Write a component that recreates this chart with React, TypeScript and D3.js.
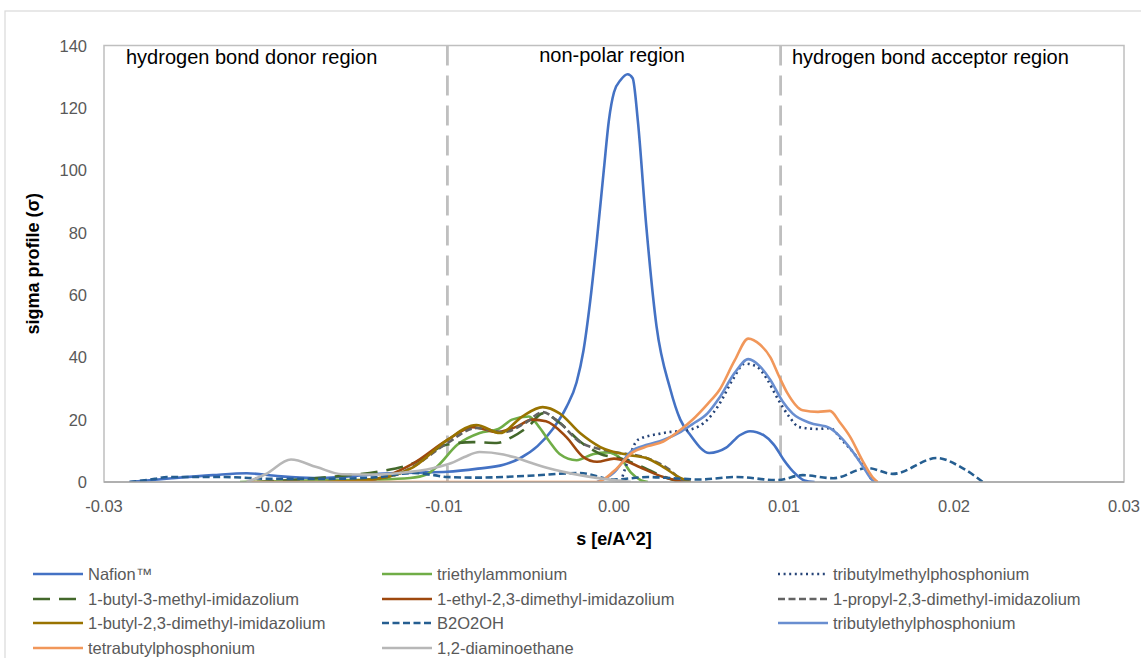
import React from 'react';
import * as d3 from 'd3';

const xTicks = [-0.03, -0.02, -0.01, 0, 0.01, 0.02, 0.03];
const xTickLabels = ['-0.03', '-0.02', '-0.01', '0.00', '0.01', '0.02', '0.03'];
const yTicks = [0, 20, 40, 60, 80, 100, 120, 140];
const regionBounds = [-0.0098, 0.0098];
const regionLabels = ['hydrogen bond donor region', 'non-polar region', 'hydrogen bond acceptor region'];

const nafionS = [-0.0285, -0.026, -0.0236, -0.0216, -0.0198, -0.0177, -0.0158, -0.0138, -0.0118, -0.0098, -0.008, -0.0065, -0.0055, -0.0045, -0.0036, -0.0028, -0.0022, -0.0018, -0.0014, -0.001, -0.0006, -0.0003, 0, 0.0004, 0.0008, 0.0011, 0.0014, 0.0019, 0.0025, 0.0033, 0.0039, 0.0045, 0.0056, 0.0066, 0.0074, 0.008, 0.0088, 0.0094, 0.01, 0.0106, 0.0112, 0.0118];
const nafionV = [0, 1.2, 2.2, 2.8, 1.9, 1.3, 1.7, 2.6, 3.0, 3.3, 4.3, 5.5, 7.7, 11.5, 17, 24, 32, 42, 58, 78, 100, 116, 125, 129, 130.8, 129.5, 116, 82, 50, 30, 20, 15, 9.3, 11, 15, 16.3, 15, 12, 7, 3, 0.5, 0];

const triethylS = [-0.022, -0.018, -0.014, -0.012, -0.011, -0.0104, -0.0092, -0.0079, -0.0068, -0.006, -0.005, -0.0044, -0.0038, -0.0032, -0.0022, -0.0012, -0.0004, 0.0004, 0.001, 0.0016, 0.002];
const triethylV = [0, 0.5, 0.8, 1.3, 2.5, 5, 12, 15.7, 17, 20, 21, 17.6, 13, 9, 7, 9, 9.5, 7.5, 3, 0.5, 0];

const tbMethylS = [0.0004, 0.0009, 0.0014, 0.0029, 0.0046, 0.0055, 0.0062, 0.007, 0.0077, 0.0084, 0.009, 0.0096, 0.0103, 0.0109, 0.012, 0.0127, 0.0134, 0.0141, 0.0148, 0.0152, 0.0155];
const tbMethylV = [0, 8, 13.5, 15.7, 17, 20, 25, 33, 38, 37, 33, 27, 21, 17.6, 17, 17.3, 13.5, 9.3, 4, 0.6, 0];

const bmimS = [-0.021, -0.018, -0.016, -0.0138, -0.0118, -0.0098, -0.0083, -0.0069, -0.006, -0.005, -0.0042, -0.0032, -0.002, -0.0008, 0.0004, 0.0016, 0.0028, 0.0036, 0.0042];
const bmimV = [0, 1, 2, 3.4, 6, 12, 12.8, 12.5, 14.4, 18, 22, 19, 13, 9, 7.5, 5, 2, 0.5, 0];

const emimS = [-0.016, -0.014, -0.0118, -0.0098, -0.0083, -0.0069, -0.0058, -0.0048, -0.004, -0.0028, -0.0018, -0.001, 0, 0.0008, 0.0015, 0.0029, 0.0039, 0.0045];
const emimV = [0, 1, 6, 13.5, 17.6, 16, 17.6, 20, 19.5, 14.4, 8, 6.5, 7.5, 6.5, 4.8, 1.6, 0.3, 0];

const pmimS = [-0.016, -0.013, -0.0118, -0.0098, -0.0081, -0.0065, -0.0052, -0.0042, -0.0032, -0.002, -0.0008, 0, 0.0019, 0.0033, 0.0039, 0.0045];
const pmimV = [0, 2, 5, 12.5, 17.3, 16, 19, 22.4, 19, 12.8, 10.5, 9.6, 7.7, 3.8, 1, 0];

const bdmimS = [-0.017, -0.014, -0.0118, -0.0098, -0.0081, -0.0067, -0.0054, -0.0042, -0.0032, -0.002, -0.0008, 0.0008, 0.0019, 0.0029, 0.0039, 0.0045];
const bdmimV = [0, 1, 4.8, 13.5, 18.3, 15.7, 21, 24, 22, 15.7, 11.2, 8.7, 7.7, 4.8, 1.3, 0];

const b2o2ohS = [-0.0285, -0.027, -0.0263, -0.023, -0.02, -0.017, -0.014, -0.0118, -0.0106, -0.0098, -0.008, -0.005, -0.002, 0, 0.002, 0.0035, 0.005, 0.0072, 0.0096, 0.0111, 0.0129, 0.0149, 0.0164, 0.019, 0.0204, 0.0217];
const b2o2ohV = [0, 1, 1.6, 1.6, 1.0, 1.0, 1.5, 2.9, 2.2, 1.6, 1.4, 2.0, 2.9, 0.8, 1.6, 1.2, 0.8, 1.6, 0.6, 2.2, 1.2, 4.5, 2.6, 7.7, 4.8, 0];

const tbEthylS = [-0.001, 0, 0.001, 0.002, 0.0029, 0.0039, 0.0046, 0.0055, 0.0062, 0.0071, 0.0079, 0.0086, 0.0092, 0.0099, 0.0105, 0.0115, 0.0127, 0.0134, 0.0141, 0.0147, 0.0152, 0.0155];
const tbEthylV = [0, 3, 9.8, 12, 13.5, 16, 18.5, 22, 27, 35, 39.4, 37, 32.7, 26, 22, 19, 17.3, 14, 9.3, 4.5, 0.6, 0];

const tetrabutylS = [-0.0216, -0.01, -0.001, 0, 0.0011, 0.002, 0.0029, 0.0039, 0.0046, 0.0055, 0.0062, 0.0071, 0.0079, 0.0086, 0.0092, 0.0097, 0.0102, 0.0111, 0.012, 0.0127, 0.0133, 0.0139, 0.0146, 0.0152, 0.0155];
const tetrabutylV = [0, 0, 0, 3.5, 9.5, 11.5, 13, 16.7, 19.9, 25, 29.5, 39, 46, 44, 40, 34, 28.5, 23, 22.5, 22.8, 19, 14.4, 7, 1.6, 0];

const diaminoS = [-0.0216, -0.0205, -0.019, -0.0175, -0.016, -0.0142, -0.0126, -0.0106, -0.0096, -0.0088, -0.0079, -0.0065, -0.0059, -0.0048, -0.0039, -0.002, 0, 0.001];
const diaminoV = [0, 2.5, 7.2, 4.8, 2.5, 2.4, 2.9, 4.5, 6, 8, 9.6, 8.8, 8, 6, 4.5, 2.2, 0.6, 0];

const seriesNames = [
  'Nafion™', 'triethylammonium', 'tributylmethylphosphonium',
  '1-butyl-3-methyl-imidazolium', '1-ethyl-2,3-dimethyl-imidazolium', '1-propyl-2,3-dimethyl-imidazolium',
  '1-butyl-2,3-dimethyl-imidazolium', 'B2O2OH', 'tributylethylphosphonium',
  'tetrabutylphosphonium', '1,2-diaminoethane',
];
const seriesS = [nafionS, triethylS, tbMethylS, bmimS, emimS, pmimS, bdmimS, b2o2ohS, tbEthylS, tetrabutylS, diaminoS];
const seriesV = [nafionV, triethylV, tbMethylV, bmimV, emimV, pmimV, bdmimV, b2o2ohV, tbEthylV, tetrabutylV, diaminoV];
const seriesColors = ['#4472C4', '#70AD47', '#264478', '#43682B', '#9E480E', '#636363', '#997300', '#255E91', '#698ED0', '#F1975A', '#B7B7B7'];
const seriesDash = ['', '', '2 3.6', '17 9', '', '7 3.5', '', '7 3.5', '', '', ''];

const W = 1141;
const H = 658;
const plot = { left: 104, right: 1124, top: 45.5, bottom: 482 };
const FONT = '"Liberation Sans", Arial, sans-serif';

export default function App() {
  const x = d3.scaleLinear().domain([-0.03, 0.03]).range([plot.left, plot.right]);
  const y = d3.scaleLinear().domain([0, 140]).range([plot.bottom, plot.top]);
  const line = d3
    .line<[number, number]>()
    .x((d) => x(d[0]))
    .y((d) => y(d[1]))
    .curve(d3.curveMonotoneX);

  const legendCols = [33, 382, 778];
  const legendRows = [574, 599, 623, 648];

  return (
    <svg width={W} height={H} style={{ position: 'absolute', left: 0, top: 0, background: '#fff' }} fontFamily={FONT}>
      <rect x={0} y={0} width={W} height={H} fill="#fff" />
      <rect x={5} y={11} width={W + 20} height={H + 20} fill="none" stroke="#d9d9d9" strokeWidth={1.2} />
      <defs>
        <clipPath id="plotClip">
          <rect x={plot.left} y={plot.top - 5} width={plot.right - plot.left} height={plot.bottom - plot.top + 5} />
        </clipPath>
      </defs>
      <rect
        x={plot.left}
        y={plot.top}
        width={plot.right - plot.left}
        height={plot.bottom - plot.top}
        fill="none"
        stroke="#bfbfbf"
        strokeWidth={1.5}
      />
      {regionBounds.map((b, i) => (
        <line
          key={i}
          x1={x(b)}
          x2={x(b)}
          y1={y(140)}
          y2={y(0)}
          stroke="#bfbfbf"
          strokeWidth={2.8}
          strokeDasharray="20 10"
        />
      ))}
      <text x={126} y={64} fontSize={20} fill="#000">{regionLabels[0]}</text>
      <text x={612} y={62} fontSize={20} fill="#000" textAnchor="middle">{regionLabels[1]}</text>
      <text x={792} y={64} fontSize={20} fill="#000">{regionLabels[2]}</text>

      <g clipPath="url(#plotClip)">
        {seriesNames.map((name, i) => {
          const pts = seriesS[i].map((s, j) => [s, seriesV[i][j]] as [number, number]);
          return (
            <path
              key={name}
              d={line(pts) || ''}
              fill="none"
              stroke={seriesColors[i]}
              strokeWidth={2.6}
              strokeDasharray={seriesDash[i] || undefined}
              strokeLinejoin="round"
            />
          );
        })}
      </g>

      <line x1={plot.left} x2={plot.right} y1={plot.bottom} y2={plot.bottom} stroke="#a6a6a6" strokeWidth={1.5} />

      {yTicks.map((t) => (
        <text key={t} x={87} y={y(t) + 6} fontSize={16.5} fill="#595959" textAnchor="end">
          {t}
        </text>
      ))}
      {xTicks.map((t, i) => (
        <text key={t} x={x(t)} y={512} fontSize={16.5} fill="#595959" textAnchor="middle">
          {xTickLabels[i]}
        </text>
      ))}

      <text x={614} y={545} fontSize={18} fontWeight="bold" fill="#000" textAnchor="middle">
        s [e/A^2]
      </text>
      <text
        transform={`translate(39, ${(plot.top + plot.bottom) / 2}) rotate(-90)`}
        fontSize={18}
        fontWeight="bold"
        fill="#000"
        textAnchor="middle"
      >
        sigma profile (σ)
      </text>

      {seriesNames.map((name, i) => {
        const cx = legendCols[i % 3];
        const cy = legendRows[Math.floor(i / 3)];
        return (
          <g key={name}>
            <line
              x1={cx}
              x2={cx + 50}
              y1={cy}
              y2={cy}
              stroke={seriesColors[i]}
              strokeWidth={2.6}
              strokeDasharray={seriesDash[i] || undefined}
            />
            <text x={cx + 55} y={cy + 6} fontSize={16.5} fill="#595959">
              {name}
            </text>
          </g>
        );
      })}
    </svg>
  );
}
